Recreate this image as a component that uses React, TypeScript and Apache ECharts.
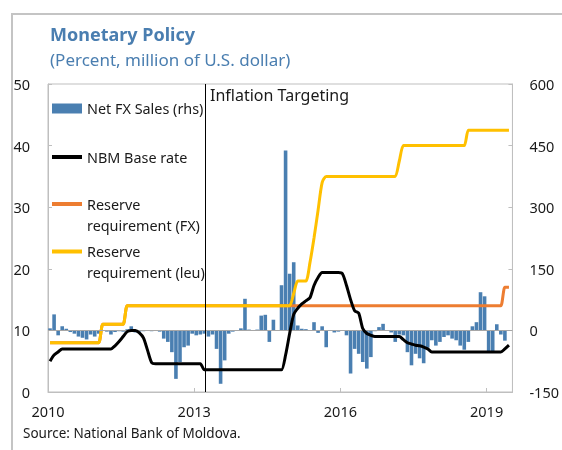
import React, { useEffect, useRef } from "react";
import * as echarts from "echarts";

// ---- Data (monthly, starting January 2010) ----
const START_YEAR = 2010;
const X_MAX = 2019.53;
const TARGETING_START = 2013.235; // start of inflation targeting regime
const xTickYears = [2010, 2013, 2016, 2019];

// Net FX sales, million US$ (rhs)
const fxSales = [
  5, 39, -12, 10, 4, -4, -8, -15, -18, -22, -10, -15,
  -8, 0, -3, -10, -4, -2, -3, 3, 10, -5, -3, -2,
  0, -2, 0, -3, -20, -28, -53, -118, -77, -41, -37, -8,
  -12, -10, -8, -15, -10, -45, -130, -73, -8, -3, 0, 5,
  77, 2, 1, 2, 36, 38, -28, 26, 0, 110, 438, 138,
  166, 12, 4, 3, 0, 20, -6, 10, -41, 0, -5, -3,
  0, -12, -105, -45, -57, -77, -93, -65, -2, 8, 16, 0,
  -5, -28, -10, -12, -53, -85, -57, -68, -80, -42, -24, -37,
  -28, -16, -12, -20, -24, -37, -47, -28, 10, 20, 93, 83,
  -53, -53, 15, -10, -25,
];

// NBM base rate, percent
const baseRate = [
  5.0, 6.0, 6.5, 7.0, 7.0, 7.0, 7.0, 7.0, 7.0, 7.0, 7.0, 7.0,
  7.0, 7.0, 7.0, 7.0, 7.5, 8.2, 9.0, 9.8, 10.0, 10.0, 9.6, 8.8,
  6.8, 4.8, 4.6, 4.6, 4.6, 4.6, 4.6, 4.6, 4.6, 4.6, 4.6, 4.6,
  4.6, 4.6, 3.6, 3.6, 3.6, 3.6, 3.6, 3.6, 3.6, 3.6, 3.6, 3.6,
  3.6, 3.6, 3.6, 3.6, 3.6, 3.6, 3.6, 3.6, 3.6, 3.6, 6.0, 9.5,
  12.6, 13.6, 14.3, 14.8, 15.3, 17.3, 18.6, 19.4, 19.4, 19.4, 19.4, 19.4,
  19.2, 17.3, 15.0, 13.2, 12.8, 10.3, 9.5, 9.2, 9.0, 9.0, 9.0, 9.0,
  9.0, 9.0, 9.0, 8.5, 8.0, 7.8, 7.6, 7.5, 7.3, 7.0, 6.5, 6.5,
  6.5, 6.5, 6.5, 6.5, 6.5, 6.5, 6.5, 6.5, 6.5, 6.5, 6.5, 6.5,
  6.5, 6.5, 6.5, 6.5, 7.0, 7.6,
];

// Reserve requirement on FX liabilities, percent
const reserveFX = [
  8, 8, 8, 8, 8, 8, 8, 8, 8, 8, 8, 8,
  8, 11, 11, 11, 11, 11, 11, 14, 14, 14, 14, 14,
  14, 14, 14, 14, 14, 14, 14, 14, 14, 14, 14, 14,
  14, 14, 14, 14, 14, 14, 14, 14, 14, 14, 14, 14,
  14, 14, 14, 14, 14, 14, 14, 14, 14, 14, 14, 14,
  14, 14, 14, 14, 14, 14, 14, 14, 14, 14, 14, 14,
  14, 14, 14, 14, 14, 14, 14, 14, 14, 14, 14, 14,
  14, 14, 14, 14, 14, 14, 14, 14, 14, 14, 14, 14,
  14, 14, 14, 14, 14, 14, 14, 14, 14, 14, 14, 14,
  14, 14, 14, 14, 17, 17,
];

// Reserve requirement on leu liabilities, percent
const reserveLeu = [
  8, 8, 8, 8, 8, 8, 8, 8, 8, 8, 8, 8,
  8, 11, 11, 11, 11, 11, 11, 14, 14, 14, 14, 14,
  14, 14, 14, 14, 14, 14, 14, 14, 14, 14, 14, 14,
  14, 14, 14, 14, 14, 14, 14, 14, 14, 14, 14, 14,
  14, 14, 14, 14, 14, 14, 14, 14, 14, 14, 14, 14,
  16, 18, 18, 18, 21, 25, 29.5, 34, 35, 35, 35, 35,
  35, 35, 35, 35, 35, 35, 35, 35, 35, 35, 35, 35,
  35, 35, 37.5, 40, 40, 40, 40, 40, 40, 40, 40, 40,
  40, 40, 40, 40, 40, 40, 40, 42.5, 42.5, 42.5, 42.5, 42.5,
  42.5, 42.5, 42.5, 42.5, 42.5, 42.5,
];

const NAME_FX_SALES = "Net FX Sales (rhs)";
const NAME_BASE = "NBM Base rate";
const NAME_RR_FX = "Reserve\nrequirement (FX)";
const NAME_RR_LEU = "Reserve\nrequirement (leu)";

const FONT = "'Noto Sans', 'Open Sans', sans-serif";
const BLUE = "#4a7eb0";
const BAR_BLUE = "#4a7fb1";
const ORANGE = "#ed7d31";
const YELLOW = "#ffc000";
const FRAME = "#bfbfbf";
const TEXT = "#1a1a1a";

// legend icons: a thick line; the two-line variant keeps the line level with the first text line
const ICON_LINE = "path://M0,0 H30 V4 H0 Z";
const ICON_LINE_TOP = "path://M0,0 H0.01 V0.01 H0 Z M0,8.5 H30 V12.5 H0 Z M0,41.99 H0.01 V42 H0 Z";

const monthX = (i: number) => START_YEAR + (i + 0.5) / 12;
const toPairs = (arr: number[]) => arr.map((v, i) => [monthX(i), v]);

export default function App() {
  const ref = useRef<HTMLDivElement>(null);

  useEffect(() => {
    if (!ref.current) return;
    const chart = echarts.init(ref.current, undefined, { renderer: "svg" });

    const legendText = { fontSize: 14.4, color: TEXT, lineHeight: 21, fontFamily: FONT };
    const legendBase = {
      left: 52,
      orient: "vertical",
      padding: 0,
      itemGap: 0,
      itemWidth: 30,
      selectedMode: false,
      textStyle: legendText,
    };

    const yAxisCommon = {
      type: "value",
      axisLine: { show: true, lineStyle: { color: FRAME } },
      axisTick: { show: true, inside: true, length: 4, lineStyle: { color: FRAME } },
      splitLine: { show: false },
      axisLabel: { fontSize: 14.5, color: TEXT, fontFamily: FONT },
    };

    const option = {
      animation: false,
      textStyle: { fontFamily: FONT },
      title: [
        {
          text: "Monetary Policy",
          left: 50,
          top: 25,
          padding: 0,
          textStyle: { fontSize: 18, fontWeight: "bold", color: BLUE, fontFamily: FONT },
        },
        {
          text: "(Percent, million of U.S. dollar)",
          left: 50,
          top: 51,
          padding: 0,
          textStyle: { fontSize: 17, fontWeight: "normal", color: BLUE, fontFamily: FONT },
        },
        {
          text: "Source: National Bank of Moldova.",
          left: 23,
          top: 426,
          padding: 0,
          textStyle: { fontSize: 13.5, fontWeight: "normal", color: TEXT, fontFamily: FONT },
        },
      ],
      grid: {
        left: 48,
        right: 48,
        top: 84,
        bottom: 58,
        show: true,
        borderColor: FRAME,
        borderWidth: 1,
      },
      legend: [
        { ...legendBase, top: 98, itemHeight: 10, icon: "rect", data: [NAME_FX_SALES] },
        { ...legendBase, top: 146.5, itemHeight: 4, icon: ICON_LINE, data: [NAME_BASE] },
        { ...legendBase, top: 193.5, itemHeight: 42, icon: ICON_LINE_TOP, data: [NAME_RR_FX] },
        { ...legendBase, top: 241, itemHeight: 42, icon: ICON_LINE_TOP, data: [NAME_RR_LEU] },
      ],
      xAxis: {
        type: "value",
        min: xTickYears[0],
        max: X_MAX,
        interval: 3,
        axisLine: { show: true, lineStyle: { color: FRAME } },
        axisTick: { show: true, inside: true, length: 4, lineStyle: { color: FRAME } },
        splitLine: { show: false },
        axisLabel: {
          fontSize: 14.5,
          color: TEXT,
          fontFamily: FONT,
          margin: 11,
          showMaxLabel: false,
          formatter: (v: number) => (xTickYears.includes(v) ? String(v) : ""),
        },
      },
      yAxis: [
        { ...yAxisCommon, min: 0, max: 50, interval: 10, position: "left", axisLabel: { ...yAxisCommon.axisLabel, margin: 18 } },
        { ...yAxisCommon, min: -150, max: 600, interval: 150, position: "right", axisLabel: { ...yAxisCommon.axisLabel, margin: 17 } },
      ],
      graphic: [
        {
          type: "rect",
          silent: true,
          shape: { x: 12, y: 14, width: 700, height: 600 },
          style: { fill: "none", stroke: "#c4c4c4", lineWidth: 2 },
        },
        {
          type: "text",
          left: 210,
          top: 87,
          silent: true,
          style: { text: "Inflation Targeting", fontSize: 16, fill: TEXT, fontFamily: FONT },
        },
      ],
      series: [
        {
          name: NAME_FX_SALES,
          type: "bar",
          yAxisIndex: 1,
          barWidth: 3.6,
          itemStyle: { color: BAR_BLUE },
          data: toPairs(fxSales),
          z: 2,
          markLine: {
            silent: true,
            symbol: ["none", "none"],
            label: { show: false },
            data: [
              { yAxis: 0, lineStyle: { color: "#a6a6a6", width: 1, type: "solid" } },
              { xAxis: TARGETING_START, lineStyle: { color: "#000", width: 1, type: "solid" } },
            ],
          },
        },
        {
          name: NAME_RR_FX,
          type: "line",
          yAxisIndex: 0,
          symbol: "none",
          smooth: 0.25,
          lineStyle: { color: ORANGE, width: 3 },
          itemStyle: { color: ORANGE },
          data: toPairs(reserveFX),
          z: 3,
        },
        {
          name: NAME_RR_LEU,
          type: "line",
          yAxisIndex: 0,
          symbol: "none",
          smooth: 0.25,
          lineStyle: { color: YELLOW, width: 3 },
          itemStyle: { color: YELLOW },
          data: toPairs(reserveLeu),
          z: 4,
        },
        {
          name: NAME_BASE,
          type: "line",
          yAxisIndex: 0,
          symbol: "none",
          smooth: 0.25,
          lineStyle: { color: "#000", width: 3 },
          itemStyle: { color: "#000" },
          data: toPairs(baseRate),
          z: 5,
        },
      ],
    };

    chart.setOption(option as any);
    return () => chart.dispose();
  }, []);

  return (
    <div
      ref={ref}
      style={{ position: "fixed", left: 0, top: 0, width: 562, height: 450, overflow: "hidden" }}
    />
  );
}
